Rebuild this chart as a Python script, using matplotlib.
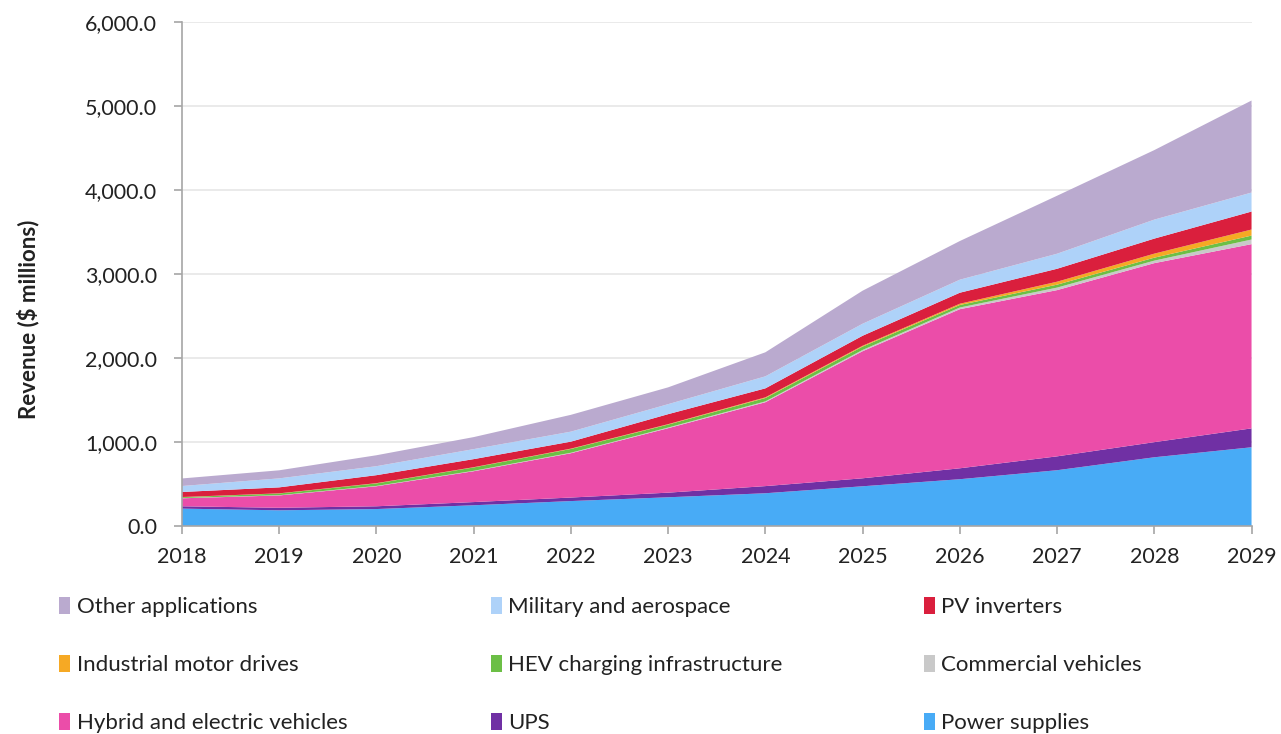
import matplotlib
matplotlib.use("Agg")
import matplotlib.pyplot as plt
from matplotlib.patches import Patch
from matplotlib.ticker import FuncFormatter

plt.rcParams["font.family"] = ["Lato", "DejaVu Sans"]

years = [2018, 2019, 2020, 2021, 2022, 2023, 2024, 2025, 2026, 2027, 2028, 2029]

# Revenue by application ($ millions), bottom of stack first
power_supplies = [210, 190, 205, 250, 300, 345, 393, 476, 560, 667, 821, 940]
ups = [28, 30, 33, 38, 42, 55, 85, 95, 130, 165, 180, 225]
hybrid_ev = [95, 147, 238, 367, 527, 767, 998, 1512, 1893, 1978, 2130, 2192]
commercial = [3, 3, 4, 5, 6, 8, 10, 15, 20, 30, 30, 55]
hev_charging = [10, 20, 30, 40, 45, 35, 40, 40, 30, 35, 35, 47]
industrial = [2, 2, 3, 3, 4, 5, 8, 10, 15, 35, 48, 72]
pv_inverters = [60, 71, 95, 96, 83, 119, 107, 119, 131, 154, 179, 214]
military = [71, 107, 107, 119, 119, 119, 143, 143, 155, 179, 226, 226]
other = [90, 96, 130, 143, 200, 200, 286, 393, 460, 690, 827, 1095]

series = [
    ("Power supplies", power_supplies, "#48abf6"),
    ("UPS", ups, "#7030a4"),
    ("Hybrid and electric vehicles", hybrid_ev, "#eb4da9"),
    ("Commercial vehicles", commercial, "#c9c9c9"),
    ("HEV charging infrastructure", hev_charging, "#6cbf46"),
    ("Industrial motor drives", industrial, "#f6a924"),
    ("PV inverters", pv_inverters, "#da1f3d"),
    ("Military and aerospace", military, "#aed2f9"),
    ("Other applications", other, "#baaacf"),
]

fig = plt.figure(figsize=(12.81, 7.34), dpi=100)
ax = fig.add_axes([0.142, 0.283, 0.835, 0.687])

ax.stackplot(years, *[s[1] for s in series],
             colors=[s[2] for s in series], labels=[s[0] for s in series],
             linewidth=0)

ax.set_xlim(2018, 2029)
ax.set_ylim(0, 6000)
ax.set_xticks(years)
ax.set_yticks(range(0, 6001, 1000))
ax.yaxis.set_major_formatter(FuncFormatter(lambda v, p: f"{v:,.1f}"))
ax.grid(axis="y", color="#e6e6e6", linewidth=1.2)
ax.set_axisbelow(True)
for side in ["top", "right"]:
    ax.spines[side].set_visible(False)
for side in ["left", "bottom"]:
    ax.spines[side].set_color("#a6a6a6")
    ax.spines[side].set_linewidth(1.2)
ax.tick_params(axis="both", colors="#a6a6a6", length=6, width=1.2,
               labelcolor="#222222", labelsize=15.5)
ax.tick_params(axis="x", pad=9)
ax.tick_params(axis="y", pad=12)
ax.set_ylabel("Revenue ($ millions)", fontsize=16, fontweight="bold",
              color="#222222")
ax.yaxis.set_label_coords(-0.133, 0.41)

# legend laid out in three columns, row-major like the original
lookup = {s[0]: s[2] for s in series}
columns = [
    ["Other applications", "Industrial motor drives", "Hybrid and electric vehicles"],
    ["Military and aerospace", "HEV charging infrastructure", "UPS"],
    ["PV inverters", "Commercial vehicles", "Power supplies"],
]
col_x = [0.046, 0.383, 0.721]
for cx, names in zip(col_x, columns):
    handles = [Patch(facecolor=lookup[n], edgecolor="none") for n in names]
    fig.legend(handles, names, loc="upper left", bbox_to_anchor=(cx, 0.187),
               frameon=False, fontsize=16, handlelength=0.5, handleheight=0.8,
               handletextpad=0.3, labelspacing=1.71, borderaxespad=0,
               borderpad=0, labelcolor="#222222")

fig.savefig("out.png", dpi=100)
